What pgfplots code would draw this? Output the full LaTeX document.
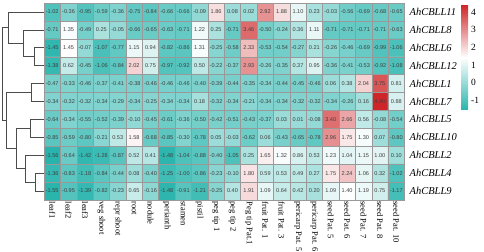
\documentclass[border=0pt]{standalone}
\usepackage{pgfplots}
\usepackage{pgfplotstable}
\pgfplotsset{compat=1.18}
\usepackage{fontspec}
\setmainfont{Liberation Serif}
\newfontfamily\cellfont{Liberation Sans}

\pgfplotstableread{
x y c
0 0 -1.02
1 0 -0.36
2 0 -0.95
3 0 -0.59
4 0 -0.36
5 0 -0.75
6 0 -0.84
7 0 -0.66
8 0 -0.66
9 0 -0.09
10 0 1.86
11 0 0.08
12 0 0.02
13 0 2.92
14 0 1.88
15 0 1.10
16 0 0.23
17 0 -0.03
18 0 -0.56
19 0 -0.69
20 0 -0.68
21 0 -0.65
0 1 -0.71
1 1 1.35
2 1 -0.49
3 1 0.25
4 1 -0.05
5 1 -0.66
6 1 -0.65
7 1 -0.63
8 1 -0.71
9 1 1.22
10 1 0.25
11 1 -0.71
12 1 3.46
13 1 -0.50
14 1 -0.24
15 1 0.36
16 1 1.11
17 1 -0.71
18 1 -0.71
19 1 -0.71
20 1 -0.71
21 1 -0.63
0 2 -1.45
1 2 1.45
2 2 -0.07
3 2 -1.07
4 2 -0.77
5 2 1.15
6 2 0.94
7 2 -0.82
8 2 -0.86
9 2 1.31
10 2 -0.25
11 2 -0.58
12 2 2.33
13 2 -0.53
14 2 -0.54
15 2 -0.27
16 2 0.21
17 2 -0.26
18 2 -0.46
19 2 -0.69
20 2 -0.99
21 2 -1.06
0 3 -1.38
1 3 0.62
2 3 -0.45
3 3 -1.06
4 3 -0.84
5 3 2.02
6 3 0.75
7 3 -0.97
8 3 -0.92
9 3 0.50
10 3 -0.22
11 3 -0.37
12 3 2.93
13 3 -0.26
14 3 -0.35
15 3 0.37
16 3 0.95
17 3 -0.36
18 3 -0.41
19 3 -0.53
20 3 -0.92
21 3 -1.08
0 4 -0.47
1 4 -0.33
2 4 -0.46
3 4 -0.37
4 4 -0.41
5 4 -0.38
6 4 -0.46
7 4 -0.46
8 4 -0.46
9 4 -0.40
10 4 -0.39
11 4 -0.44
12 4 -0.35
13 4 -0.34
14 4 -0.44
15 4 -0.45
16 4 -0.46
17 4 0.06
18 4 0.38
19 4 2.04
20 4 3.75
21 4 0.81
0 5 -0.34
1 5 -0.32
2 5 -0.32
3 5 -0.34
4 5 -0.29
5 5 -0.34
6 5 -0.25
7 5 -0.34
8 5 -0.34
9 5 0.18
10 5 -0.32
11 5 -0.34
12 5 -0.21
13 5 -0.34
14 5 -0.34
15 5 -0.32
16 5 -0.32
17 5 -0.34
18 5 -0.26
19 5 0.16
20 5 4.40
21 5 0.88
0 6 -0.64
1 6 -0.34
2 6 -0.55
3 6 -0.52
4 6 -0.39
5 6 -0.10
6 6 -0.45
7 6 -0.61
8 6 -0.36
9 6 -0.50
10 6 -0.42
11 6 -0.51
12 6 -0.43
13 6 -0.37
14 6 0.03
15 6 0.01
16 6 -0.08
17 6 3.40
18 6 2.66
19 6 0.56
20 6 -0.08
21 6 -0.54
0 7 -0.85
1 7 -0.59
2 7 -0.80
3 7 -0.21
4 7 0.53
5 7 1.58
6 7 -0.68
7 7 -0.85
8 7 -0.30
9 7 -0.78
10 7 0.05
11 7 -0.03
12 7 -0.62
13 7 0.06
14 7 -0.43
15 7 -0.65
16 7 -0.78
17 7 2.96
18 7 1.75
19 7 1.30
20 7 0.07
21 7 -0.80
0 8 -1.56
1 8 -0.64
2 8 -1.42
3 8 -1.28
4 8 -0.87
5 8 0.52
6 8 0.41
7 8 -1.48
8 8 -1.04
9 8 -0.88
10 8 -0.40
11 8 -1.05
12 8 0.25
13 8 1.65
14 8 1.32
15 8 0.86
16 8 0.53
17 8 1.23
18 8 1.04
19 8 1.15
20 8 1.00
21 8 0.10
0 9 -1.36
1 9 -0.83
2 9 -1.18
3 9 -0.84
4 9 -0.44
5 9 0.08
6 9 -0.40
7 9 -1.25
8 9 -1.00
9 9 -0.86
10 9 -0.23
11 9 -0.10
12 9 1.80
13 9 0.59
14 9 0.53
15 9 0.49
16 9 0.27
17 9 1.75
18 9 2.24
19 9 1.06
20 9 0.32
21 9 -1.02
0 10 -1.55
1 10 -0.95
2 10 -1.39
3 10 -0.82
4 10 -0.23
5 10 0.65
6 10 -0.16
7 10 -1.48
8 10 -0.91
9 10 -1.21
10 10 -0.25
11 10 0.40
12 10 1.91
13 10 1.09
14 10 0.64
15 10 0.42
16 10 0.20
17 10 1.09
18 10 1.40
19 10 1.19
20 10 0.75
21 10 -1.17
}\hm

\begin{document}
\begin{tikzpicture}
\path[use as bounding box] (0,0) rectangle (484bp,252bp);

% dendrogram
\begin{axis}[
  at={(0bp,52bp)}, anchor=south west,
  width=44bp, height=197bp, scale only axis,
  xmin=0, xmax=44, ymin=-0.5, ymax=10.5, y dir=reverse,
  hide axis, clip=false,
]
\addplot[black!70, line width=0.7pt, mark=none] coordinates {(44,2) (34.3,2) (34.3,3) (44,3)};
\addplot[black!70, line width=0.7pt, mark=none] coordinates {(44,1) (23.3,1) (23.3,2.5) (34.3,2.5)};
\addplot[black!70, line width=0.7pt, mark=none] coordinates {(44,0) (8.3,0) (8.3,1.75) (23.3,1.75)};
\addplot[black!70, line width=0.7pt, mark=none] coordinates {(44,4) (31.7,4) (31.7,5) (44,5)};
\addplot[black!70, line width=0.7pt, mark=none] coordinates {(44,6) (30,6) (30,7) (44,7)};
\addplot[black!70, line width=0.7pt, mark=none] coordinates {(44,9) (35,9) (35,10) (44,10)};
\addplot[black!70, line width=0.7pt, mark=none] coordinates {(44,8) (25,8) (25,9.5) (35,9.5)};
\addplot[black!70, line width=0.7pt, mark=none] coordinates {(30,6.5) (16.7,6.5) (16.7,8.75) (25,8.75)};
\addplot[black!70, line width=0.7pt, mark=none] coordinates {(31.7,4.5) (6.7,4.5) (6.7,7.625) (16.7,7.625)};
\addplot[black!70, line width=0.7pt, mark=none] coordinates {(8.3,0.875) (2.3,0.875) (2.3,6.0625) (6.7,6.0625)};
\end{axis}

% heatmap
\begin{axis}[
  at={(44bp,52bp)}, anchor=south west,
  width=360.5bp, height=197bp, scale only axis,
  xmin=-0.5, xmax=21.5, ymin=-0.5, ymax=10.5, y dir=reverse,
  axis line style={draw=none},
  colormap={hm}{rgb255(0cm)=(40,180,172); rgb255(1cm)=(255,255,255); rgb255(2cm)=(206,38,40)},
  point meta min=-1.56, point meta max=4.40,
  xtick={0,...,21},
  xticklabels={leaf1,leaf2,leaf3,veg shoot,repr shoot,root,nodule,perianth,stamen,pistil,peg tip 1,peg tip 2,Peg tip Pat.1,fruit Pat. 1,fruit Pat. 3,pericarp Pat. 5,pericarp Pat. 6,seed Pat. 5,seed Pat. 6,seed Pat. 7,seed Pat. 8,seed Pat. 10},
  xticklabel style={rotate=-90, anchor=west, font=\fontsize{8.5}{10}\selectfont, inner sep=1.5bp},
  ytick={0,...,10},
  yticklabels={AhCBLL11,AhCBLL8,AhCBLL6,AhCBLL12,AhCBLL1,AhCBLL7,AhCBLL5,AhCBLL10,AhCBLL2,AhCBLL4,AhCBLL9},
  yticklabel pos=right,
  yticklabel style={anchor=west, font=\fontsize{10.5}{12}\selectfont\itshape, inner sep=0pt, xshift=5bp},
  major tick length=0, minor tick length=0,
  minor xtick={-0.5,0.5,...,21.5}, minor ytick={-0.5,0.5,...,10.5},
  xminorgrids, yminorgrids,
  minor grid style={draw=black!40, line width=0.45pt},
  axis on top,
  colorbar right,
  colorbar style={
    at={(parent axis.north east)}, anchor=north west,
    xshift=48bp, yshift=-2bp,
    width=7bp, height=105bp, scale only axis,
    axis line style={draw=none},
    major tick length=0,
    ytick={-1,0,1,2,3,4},
    yticklabel pos=right,
    yticklabel style={font=\fontsize{9.5}{11}\selectfont, anchor=west, inner sep=0pt, xshift=3bp,
      /pgf/number format/assume math mode=true},
  },
]
\addplot[matrix plot*, mesh/cols=22, mesh/ordering=x varies, point meta=explicit]
  table[x=x, y=y, meta=c] {\hm};
\addplot[draw=none, mark=none, point meta=explicit,
  nodes near coords={\pgfmathprintnumber[fixed, fixed zerofill, precision=2, assume math mode=true]{\pgfplotspointmeta}},
  every node near coord/.append style={anchor=center, font=\cellfont\fontsize{5.6}{6}\selectfont, text=black!75, inner sep=0pt}]
  table[x=x, y=y, meta=c] {\hm};
\end{axis}
\end{tikzpicture}
\end{document}
